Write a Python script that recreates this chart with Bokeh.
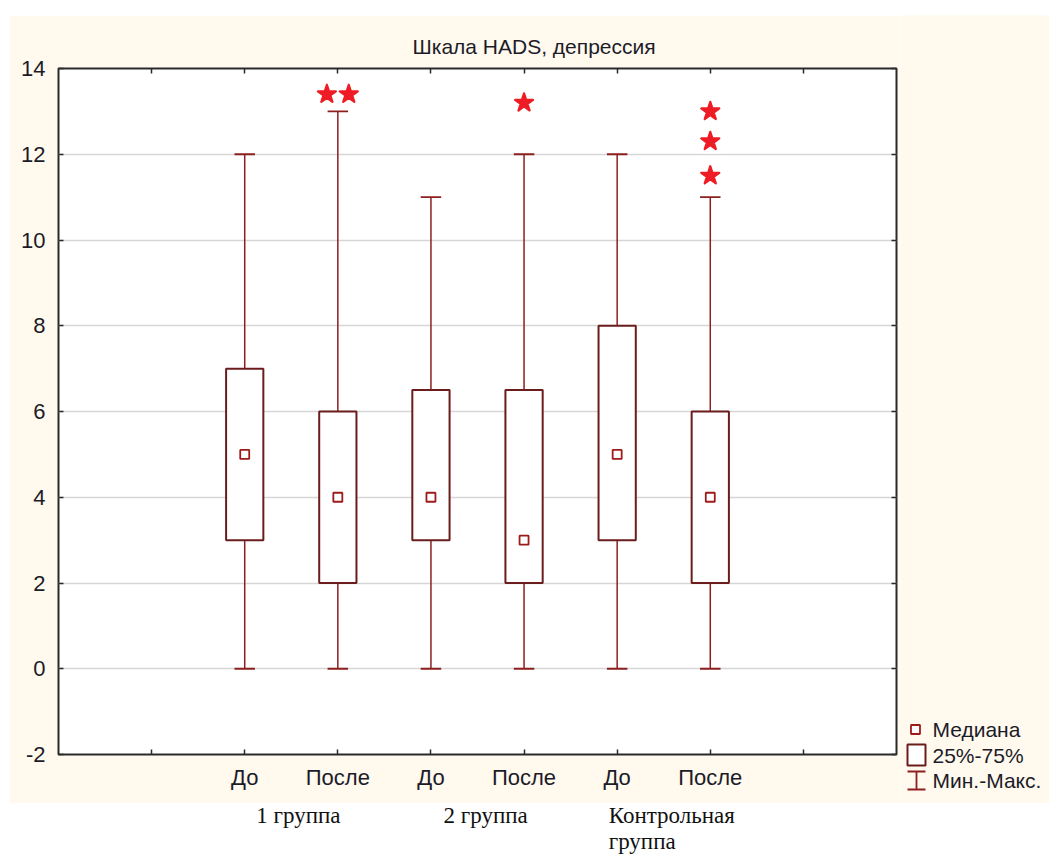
import numpy as np
from bokeh.plotting import figure
from bokeh.models import ColumnDataSource, Range1d, FixedTicker, LinearAxis, Spacer
from bokeh.layouts import column, row
from bokeh.embed import file_html
from bokeh.resources import INLINE
from bokeh.core.properties import value

# --- data -------------------------------------------------------------
groups = ["1 группа", "2 группа", "Контрольная\nгруппа"]
phases = ["До", "После", "До", "После", "До", "После"]
minimum = [0, 0, 0, 0, 0, 0]
q1 = [3, 2, 3, 2, 3, 2]
median = [5, 4, 4, 3, 5, 4]
q3 = [7, 6, 6.5, 6.5, 8, 6]
maximum = [12, 13, 11, 12, 12, 11]
outliers = [[], [13.4, 13.4], [], [13.2], [], [13.0, 12.3, 11.5]]
y_ticks = [-2, 0, 2, 4, 6, 8, 10, 12, 14]
legend_labels = ["Медиана", "25%-75%", "Мин.-Макс."]

# --- styles -----------------------------------------------------------
CREAM = "#FFF9EE"
BOX = "#6b1c1c"
WHISK = "#8e1f1f"
MED = "#9e1b1b"
STAR = "#ee1c25"
INK = "#1c1c28"
TICK = "#2a2a2a"
SANS = "Liberation Sans"
SERIF = "Liberation Serif"
BOX_W = 0.4
CAP_W = 0.22
DODGE = 0.235

pos = np.arange(len(phases)) + 2.0
ticks_x = list(np.arange(pos[0] - 1, pos[-1] + 2))

src = ColumnDataSource(dict(
    x=pos, lo=minimum, q1=q1, med=median, q3=q3, hi=maximum,
    cl=pos - CAP_W / 2, cr=pos + CAP_W / 2,
))

p = figure(width=891, height=788, x_range=Range1d(0, pos[-1] + 2), y_range=Range1d(-2, 14),
           output_backend="svg", toolbar_location=None,
           min_border_left=49, min_border_right=4, min_border_top=53, min_border_bottom=49,
           background_fill_color="white", border_fill_color=CREAM,
           outline_line_color=TICK, outline_line_width=2)
p.frame_align = False

p.title.text = "Шкала HADS, депрессия"
p.title.align = "left"
p.title.offset = 354
p.title.text_font = SANS
p.title.text_font_size = "21px"
p.title.text_font_style = "normal"
p.title.text_color = INK
p.title.standoff = 21


def tick_only(ax):
    """Inward tick marks with no visible labels."""
    ax.axis_line_color = None
    ax.major_tick_in = 5
    ax.major_tick_out = 0
    ax.major_tick_line_color = TICK
    ax.major_tick_line_width = 1.5
    ax.minor_tick_line_color = None
    ax.major_label_text_color = None
    ax.major_label_text_font_size = "1px"
    ax.major_label_standoff = 0


# bottom: tick marks between/around the categories, then the category labels
xticks_ax = p.xaxis[0]
xticks_ax.ticker = FixedTicker(ticks=ticks_x)
tick_only(xticks_ax)

xlab_ax = LinearAxis(ticker=FixedTicker(ticks=list(pos)))
xlab_ax.major_label_overrides = {int(x): lab for x, lab in zip(pos, phases)}
p.add_layout(xlab_ax, "below")

yax = p.yaxis[0]
yax.ticker = FixedTicker(ticks=y_ticks)
yax.major_label_overrides = {t: str(t) for t in y_ticks}
yax.major_tick_in = 5
yax.major_tick_out = 0
yax.major_tick_line_color = TICK
yax.major_tick_line_width = 1.5

for ax in (xlab_ax, yax):
    ax.axis_line_color = None
    ax.minor_tick_line_color = None
    ax.major_label_text_font = SANS
    ax.major_label_text_font_size = "22px"
    ax.major_label_text_color = INK
xlab_ax.major_tick_line_color = None
xlab_ax.major_tick_in = 0
xlab_ax.major_tick_out = 0
xlab_ax.major_label_standoff = 10
yax.major_label_standoff = 13

top_ax = LinearAxis(ticker=FixedTicker(ticks=ticks_x))
right_ax = LinearAxis(ticker=FixedTicker(ticks=y_ticks))
tick_only(top_ax)
tick_only(right_ax)
p.add_layout(top_ax, "above")
p.add_layout(right_ax, "right")

p.xgrid.grid_line_color = None
p.ygrid.ticker = FixedTicker(ticks=y_ticks)
p.ygrid.grid_line_color = "#d6d6d6"
p.ygrid.grid_line_width = 1.5

# whiskers: stems and caps
p.segment(x0="x", y0="q3", x1="x", y1="hi", source=src, line_color=WHISK, line_width=1.5)
p.segment(x0="x", y0="lo", x1="x", y1="q1", source=src, line_color=WHISK, line_width=1.5)
p.segment(x0="cl", y0="hi", x1="cr", y1="hi", source=src, line_color=WHISK, line_width=1.8)
p.segment(x0="cl", y0="lo", x1="cr", y1="lo", source=src, line_color=WHISK, line_width=1.8)

# interquartile boxes
p.vbar(x="x", width=BOX_W, bottom="q1", top="q3", source=src,
       fill_color="white", line_color=BOX, line_width=2)

# medians
p.scatter(x="x", y="med", source=src, marker="square", size=9,
          fill_color="white", line_color=MED, line_width=1.8)

# outliers (equal values are spread sideways)
ox, oy = [], []
for x, vals in zip(pos, outliers):
    for v in sorted(set(vals), reverse=True):
        k = vals.count(v)
        for j in range(k):
            ox.append(x + (j - (k - 1) / 2) * DODGE)
            oy.append(v)
osrc = ColumnDataSource(dict(x=ox, y=oy))
p.scatter(x="x", y="y", source=osrc, marker="square", size=24, fill_color="white", line_color=None)
p.scatter(x="x", y="y", source=osrc, marker="star", size=19, fill_color=STAR,
          line_color=STAR, line_width=2.2, line_join="round")

# --- legend panel -----------------------------------------------------
lg = figure(width=149, height=788, x_range=Range1d(0, 149), y_range=Range1d(788, 0),
            output_backend="svg", toolbar_location=None,
            x_axis_location=None, y_axis_location=None, min_border=0,
            border_fill_color=CREAM, background_fill_color=CREAM, outline_line_color=None)
lg.frame_align = False
lg.xgrid.visible = False
lg.ygrid.visible = False
row_y = [714, 739.5, 765]
sym_x = 16
lg.scatter(x=[sym_x - 1], y=[row_y[0]], marker="square", size=9,
           fill_color="white", line_color=MED, line_width=1.8)
lg.rect(x=[sym_x], y=[row_y[1]], width=18, height=21,
        fill_color="white", line_color=BOX, line_width=2)
lg.segment(x0=[sym_x, sym_x - 9, sym_x - 9], y0=[row_y[2] - 9, row_y[2] - 9, row_y[2] + 9],
           x1=[sym_x, sym_x + 9, sym_x + 9], y1=[row_y[2] + 9, row_y[2] - 9, row_y[2] + 9],
           line_color=WHISK, line_width=1.8)
lg.text(x=[sym_x + 16] * 3, y=row_y, text=legend_labels, text_baseline="middle",
        text_align="left", text_font=value(SANS), text_font_size="21px", text_color=INK)

# --- group captions under the axis ------------------------------------
lab = figure(width=1040, height=51, x_range=p.x_range, y_range=Range1d(51, 0),
             output_backend="svg", toolbar_location=None,
             x_axis_location=None, y_axis_location=None,
             min_border_left=49, min_border_right=153, min_border_top=0, min_border_bottom=0,
             border_fill_color="white", background_fill_color="white", outline_line_color=None)
lab.frame_align = False
lab.xgrid.visible = False
lab.ygrid.visible = False
caption_shift = [-35, -34, -55]
gx, gy, gt, go = [], [], [], []
for i, name in enumerate(groups):
    mid = pos[2 * i:2 * i + 2].mean()
    for j, line in enumerate(name.split("\n")):
        gx.append(mid)
        gy.append(12 + 26 * j)
        gt.append(line)
        go.append(caption_shift[i])
lab.text(x="x", y="y", text="t", x_offset="o", source=ColumnDataSource(dict(x=gx, y=gy, t=gt, o=go)),
         text_align="left", text_baseline="middle", text_font=value(SERIF),
         text_font_size="23px", text_color="#111111")

layout = column(Spacer(height=15), row(Spacer(width=9), p, lg), row(Spacer(width=9), lab))

with open("out.html", "w") as f:
    f.write(file_html(layout, INLINE, title="HADS"))
